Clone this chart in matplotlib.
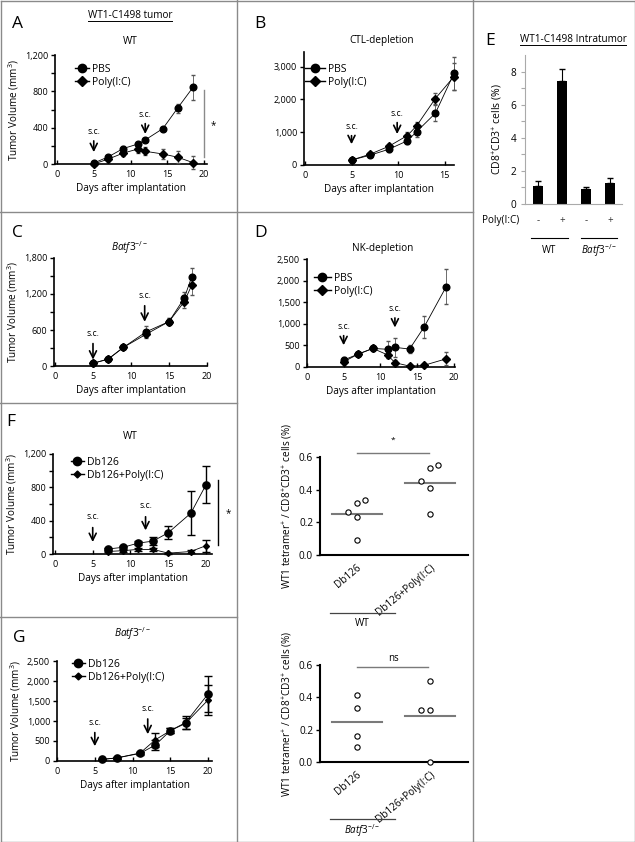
import numpy as np
import matplotlib
matplotlib.use('Agg')
import matplotlib.pyplot as plt
from matplotlib.ticker import FuncFormatter
from matplotlib.lines import Line2D

plt.rcParams['font.family'] = ['Open Sans', 'DejaVu Sans']
plt.rcParams['mathtext.fontset'] = 'custom'
plt.rcParams['mathtext.rm'] = 'Open Sans'
plt.rcParams['mathtext.it'] = 'Open Sans:italic'

W, H = 635, 842

# ---------------- data ----------------
# A: WT mice, PBS vs Poly(I:C)
a_days = [5, 7, 9, 11, 12, 14.4, 16.4, 18.5]
a_pbs = [10, 80, 170, 220, 265, 390, 615, 845]
a_pbs_err = [10, 20, 25, 20, 25, 20, 50, 140]
a_poly = [0, 55, 120, 165, 140, 110, 75, 15]
a_poly_err = [5, 20, 30, 40, 45, 60, 65, 70]

# B: CTL-depletion
b_days = [5, 7, 9, 11, 12, 14, 16]
b_pbs = [150, 300, 480, 740, 1020, 1580, 2800]
b_pbs_err = [40, 60, 80, 100, 150, 250, 500]
b_poly = [150, 330, 570, 900, 1200, 2030, 2700]
b_poly_err = [40, 60, 80, 100, 120, 180, 400]

# C: Batf3-/-
c_days = [5, 7, 9, 12, 15, 17, 18]
c_pbs = [45, 115, 310, 570, 740, 1130, 1490]
c_pbs_err = [15, 20, 30, 90, 60, 100, 150]
c_poly = [45, 115, 310, 530, 740, 1070, 1350]
c_poly_err = [15, 20, 30, 70, 60, 110, 160]

# D: NK-depletion
d_days = [5, 7, 9, 11, 12, 14, 16, 19]
d_pbs = [160, 300, 430, 410, 455, 415, 930, 1860]
d_pbs_err = [60, 50, 60, 200, 220, 100, 250, 400]
d_poly = [120, 300, 430, 280, 100, 20, 40, 190]
d_poly_err = [60, 50, 60, 80, 60, 20, 30, 150]

# E: intratumor CD8+CD3+
e_signs = ['-', '+', '-', '+']
e_vals = [1.08, 7.4, 0.92, 1.25]
e_err = [0.3, 0.77, 0.13, 0.3]

# F: WT, Db126 vaccine
f_days = [7, 9, 11, 13, 15, 18, 20]
f_db = [60, 80, 130, 155, 255, 490, 830]
f_db_err = [15, 20, 25, 45, 80, 265, 220]
f_poly = [30, 40, 55, 55, 10, 30, 100]
f_poly_err = [10, 10, 15, 15, 5, 15, 70]

# G: Batf3-/-, Db126 vaccine
g_days = [6, 8, 11, 13, 15, 17, 20]
g_db = [40, 80, 190, 400, 760, 960, 1680]
g_db_err = [15, 20, 30, 130, 60, 170, 450]
g_poly = [40, 80, 200, 530, 760, 940, 1530]
g_poly_err = [15, 20, 30, 180, 60, 140, 380]

# tetramer scatter
tet_groups = ['Db126', 'Db126+Poly(I:C)']
wt_db = [0.092, 0.235, 0.265, 0.317, 0.337]
wt_poly = [0.251, 0.408, 0.453, 0.531, 0.551]
ko_db = [0.093, 0.158, 0.333, 0.415]
ko_poly = [0.0, 0.32, 0.32, 0.50]

KO = r'$Batf3^{-/-}$'

fig = plt.figure(figsize=(W / 100, H / 100), dpi=100)


def add_ax(l, t, r, b):
    return fig.add_axes([l / W, 1 - b / H, (r - l) / W, (b - t) / H])


def ftext(x, y, s, **kw):
    return fig.text(x / W, 1 - y / H, s, **kw)


def fline(x0, y0, x1, y1, color='#8a8a8a', lw=1.0):
    fig.add_artist(Line2D([x0 / W, x1 / W], [1 - y0 / H, 1 - y1 / H], color=color, lw=lw))


comma = FuncFormatter(lambda v, p: f'{v:,.0f}')


def style(ax, xlim, ylim, yticks, yminor=None, ylabel=True):
    ax.spines[['top', 'right']].set_visible(False)
    for s in ['left', 'bottom']:
        ax.spines[s].set_linewidth(1.2)
    ax.set_xlim(*xlim)
    ax.set_ylim(*ylim)
    ax.set_xticks([t for t in [0, 5, 10, 15, 20] if t <= xlim[1]])
    ax.set_yticks(yticks)
    if yminor:
        ax.set_yticks(yminor, minor=True)
    ax.yaxis.set_major_formatter(comma)
    ax.tick_params(axis='x', direction='in', length=3, width=1, labelsize=6.5, pad=4)
    ax.tick_params(axis='y', which='both', direction='out', length=3, width=1, labelsize=6.5, pad=2)
    ax.set_xlabel('Days after implantation', fontsize=7.2, labelpad=3)
    if ylabel:
        ax.set_ylabel('Tumor Volume (mm$^3$)', fontsize=7.2, labelpad=3)


def series(ax, x, y, err, marker, ms, ecolor='#555555', elw=0.6, cap=1.5):
    ax.errorbar(x, y, yerr=err, fmt='-', marker=marker, color='black', ms=ms, lw=0.6,
                ecolor=ecolor, elinewidth=elw, capsize=cap, clip_on=False, zorder=3)


def sc(ax, x, tip, top, txt):
    ax.annotate('', xy=(x, tip), xytext=(x, top),
                arrowprops=dict(arrowstyle='->,head_length=0.5,head_width=0.25', lw=1.2, color='black'))
    ax.text(x, txt, 's.c.', fontsize=6.2, ha='center', va='bottom')


def legend(ax, labels, markers, sizes, x, y, hl):
    handles = [Line2D([], [], color='black', lw=1.0, marker=m, ms=s) for m, s in zip(markers, sizes)]
    ax.legend(handles, labels, loc='upper left', bbox_to_anchor=(x / W, 1 - y / H),
              bbox_transform=fig.transFigure, frameon=False, fontsize=7.5, borderpad=0,
              borderaxespad=0, handlelength=hl, handletextpad=0.3, labelspacing=0.15)


# ---------------- A ----------------
axA = add_ax(55, 55, 207, 164)
series(axA, a_days, a_pbs, a_pbs_err, 'o', 4.8)
series(axA, a_days, a_poly, a_poly_err, 'D', 4.2)
style(axA, (-0.27, 20.4), (0, 1200), [0, 400, 800, 1200], [200, 600, 1000])
legend(axA, ['PBS', 'Poly(I:C)'], ['o', 'D'], [6, 5.5], 75, 64, 1.3)
sc(axA, 5, 100, 285, 310)
sc(axA, 12, 300, 475, 500)
axA.plot([20, 20], [77, 815], color='#8a8a8a', lw=1, clip_on=False)
axA.text(21.2, 420, '*', fontsize=7, ha='center', va='center')

# ---------------- B ----------------
axB = add_ax(304, 52, 454, 165)
series(axB, b_days, b_pbs, b_pbs_err, 'o', 4.8)
series(axB, b_days, b_poly, b_poly_err, 'D', 4.2)
style(axB, (-0.1, 16.0), (0, 3450), [0, 1000, 2000, 3000], ylabel=False)
legend(axB, ['PBS', 'Poly(I:C)'], ['o', 'D'], [6, 5.5], 305, 64, 1.9)
sc(axB, 5, 550, 980, 1050)
sc(axB, 9.9, 860, 1380, 1450)

# ---------------- C ----------------
axC = add_ax(54, 258, 207, 366)
series(axC, c_days, c_pbs, c_pbs_err, 'o', 4.8)
series(axC, c_days, c_poly, c_poly_err, 'D', 4.2)
style(axC, (-0.13, 20.0), (0, 1800), [0, 600, 1200, 1800], [300, 900, 1500])
sc(axC, 5, 60, 420, 470)
sc(axC, 11.8, 690, 1050, 1100)

# ---------------- D ----------------
axD = add_ax(307, 259, 455, 367)
series(axD, d_days, d_pbs, d_pbs_err, 'o', 4.8)
series(axD, d_days, d_poly, d_poly_err, 'D', 4.2)
style(axD, (0.1, 20.2), (0, 2500), [0, 500, 1000, 1500, 2000, 2500], ylabel=False)
legend(axD, ['PBS', 'Poly(I:C)'], ['o', 'D'], [6, 5.5], 314, 273, 1.6)
sc(axD, 5, 440, 790, 840)
sc(axD, 12, 850, 1200, 1250)

# ---------------- E ----------------
axE = add_ax(525, 55, 622, 204)
xe = np.arange(len(e_vals))
axE.bar(xe, e_vals, width=0.42, color='black', zorder=2)
axE.errorbar(xe, e_vals, yerr=[np.zeros(len(e_err)), e_err], fmt='none', ecolor='black',
             elinewidth=0.8, capsize=2, zorder=1)
axE.spines[['top', 'right']].set_visible(False)
for s in ['left', 'bottom']:
    axE.spines[s].set_color('#aaaaaa')
    axE.spines[s].set_linewidth(0.8)
axE.set_xlim(-0.54, 3.5)
axE.set_ylim(0, 9)
axE.set_xticks([])
axE.set_yticks([0, 2, 4, 6, 8])
axE.set_yticks([1, 3, 5, 7], minor=True)
axE.tick_params(axis='y', which='both', color='#aaaaaa', length=3, width=0.8, labelsize=7.2, pad=3)
axE.set_ylabel('CD8$^{+}$CD3$^{+}$ cells (%)', fontsize=7.5, labelpad=4)
tr = axE.get_xaxis_transform()
for xi, s in zip(xe, e_signs):
    axE.text(xi, -0.114, s, transform=tr, ha='center', va='center', fontsize=7, color='#333333')
axE.text(-0.45 - 0.35, -0.114, 'Poly(I:C)', transform=tr, ha='right', va='center', fontsize=7.2)
for (x0, x1), lab in zip([(-0.29, 1.25), (1.79, 3.29)], ['WT', KO]):
    axE.plot([x0, x1], [-0.228, -0.228], transform=tr, color='black', lw=0.8, clip_on=False)
    axE.text((x0 + x1) / 2, -0.31, lab, transform=tr, ha='center', va='center', fontsize=7)

# ---------------- F ----------------
axF = add_ax(53, 454, 212, 554)
series(axF, f_days, f_db, f_db_err, 'o', 5.2, ecolor='black', elw=1.0, cap=3)
series(axF, f_days, f_poly, f_poly_err, 'D', 3.0, ecolor='black', elw=1.0, cap=3)
style(axF, (-0.26, 20.8), (0, 1200), [0, 400, 800, 1200], [200, 600, 1000])
legend(axF, ['Db126', 'Db126+Poly(I:C)'], ['o', 'D'], [6, 3.5], 71, 457, 1.2)
sc(axF, 5, 110, 350, 400)
sc(axF, 12, 250, 480, 530)
axF.plot([21.6, 21.6], [110, 890], color='black', lw=1, clip_on=False)
axF.text(22.9, 490, '*', fontsize=7, ha='center', va='center')

# ---------------- G ----------------
axG = add_ax(57, 661, 212, 761)
series(axG, g_days, g_db, g_db_err, 'o', 5.2, ecolor='black', elw=1.0, cap=3)
series(axG, g_days, g_poly, g_poly_err, 'D', 3.0, ecolor='black', elw=1.0, cap=3)
style(axG, (0, 20.5), (0, 2500), [0, 500, 1000, 1500, 2000, 2500])
legend(axG, ['Db126', 'Db126+Poly(I:C)'], ['o', 'D'], [6, 3.5], 72, 659, 1.2)
sc(axG, 5, 300, 780, 850)
sc(axG, 12, 600, 1120, 1200)


# ---------------- tetramer scatter ----------------
def swarm(vals, thresh=0.05):
    vals = sorted(vals)
    placed, offs, k = [], [], 0
    for v in vals:
        if any(s == 0 and abs(v - pv) < thresh for pv, s in placed):
            slot = -1 if k % 2 == 0 else 1
            k += 1
        else:
            slot = 0
        placed.append((v, slot))
        offs.append(slot)
    return np.array(vals), np.array(offs)


def tet_panel(ax, groups_vals, sig_y, sig_x1, sig_text, text_y, text_size):
    for i, vals in enumerate(groups_vals):
        v, o = swarm(vals)
        ax.plot(i + o * 0.115, v, 'o', mfc='white', mec='black', mew=0.8, ms=3.8, clip_on=False, zorder=3)
        m = np.mean(vals)
        ax.plot([i - 0.34, i + 0.34], [m, m], color='#7a7a7a', lw=1.5, zorder=2)
    ax.spines[['top', 'right']].set_visible(False)
    for s in ['left', 'bottom']:
        ax.spines[s].set_linewidth(1.5)
    ax.set_xlim(-0.5, 1.52)
    ax.set_ylim(0, 0.6)
    ax.set_yticks([0, 0.2, 0.4, 0.6])
    ax.yaxis.set_major_formatter(FuncFormatter(lambda v, p: f'{v:.1f}'))
    ax.set_xticks([0, 1])
    ax.set_xticklabels(tet_groups, rotation=40, ha='right', rotation_mode='anchor')
    ax.tick_params(axis='x', length=0, labelsize=7.2, pad=5)
    ax.tick_params(axis='y', direction='out', length=3, width=1, labelsize=7.2, pad=2)
    ax.set_ylabel('WT1 tetramer$^{+}$ / CD8$^{+}$CD3$^{+}$ cells (%)', fontsize=7.2, labelpad=3)
    ax.plot([0.0, sig_x1], [sig_y, sig_y], color='#7a7a7a', lw=1, clip_on=False)
    ax.text(0.5, text_y, sig_text, ha='center', va='center', fontsize=text_size)


axS1 = add_ax(320, 457, 468, 555)
tet_panel(axS1, [wt_db, wt_poly], 0.625, 0.99, '*', 0.70, 6)
axS2 = add_ax(320, 665, 468, 762)
tet_panel(axS2, [ko_db, ko_poly], 0.588, 0.97, 'ns', 0.64, 7)
fline(330, 613, 395, 613, color='#444444', lw=0.9)
ftext(362, 624, 'WT', ha='center', va='center', fontsize=7.2)
fline(330, 819, 395, 819, color='#444444', lw=0.9)
ftext(362, 831, KO, ha='center', va='center', fontsize=7.0)

# ---------------- panel letters / titles ----------------
for lab, x, y in [('A', 12, 24), ('B', 254, 24), ('C', 12, 233), ('D', 254, 233),
                  ('E', 485, 41), ('F', 6, 422), ('G', 13, 638)]:
    ftext(x, y, lab, fontsize=12.5, ha='left', va='center')

for txt, x, y in [('WT', 130, 42), ('CTL-depletion', 382, 41), (KO, 130, 248),
                  ('NK-depletion', 383, 249), ('WT', 130, 437), (KO, 133, 634)]:
    ftext(x, y, txt, fontsize=7.2, ha='center', va='center')

underlined = [ftext(130, 15, 'WT1-C1498 tumor', fontsize=7.2, ha='center', va='center'),
              ftext(573, 39, 'WT1-C1498 Intratumor', fontsize=7.2, ha='center', va='center')]

# ---------------- panel frame ----------------
fline(0.5, 0.5, 634.5, 0.5)
fline(0.5, 841.5, 634.5, 841.5)
fline(0.5, 0.5, 0.5, 841.5)
fline(634.5, 0.5, 634.5, 841.5)
fline(237, 0, 237, 842)
fline(473, 0, 473, 842)
fline(0, 212, 473, 212)
fline(0, 403, 237, 403)
fline(0, 617, 237, 617)

fig.canvas.draw()
r = fig.canvas.get_renderer()
for t in underlined:
    bb = t.get_window_extent(r)
    fig.add_artist(Line2D([bb.x0 / W, bb.x1 / W], [(bb.y0 - 0.5) / H] * 2, color='black', lw=0.7))

fig.savefig('out.png', dpi=100)
